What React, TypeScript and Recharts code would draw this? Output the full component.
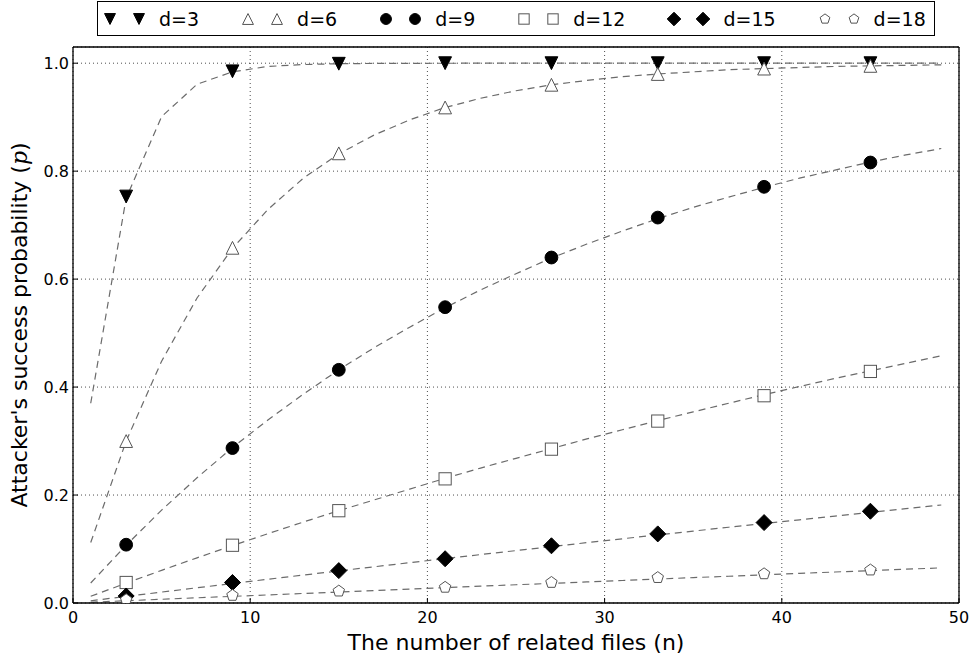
import React from 'react'
import { ComposedChart, Line, Scatter, XAxis, YAxis, CartesianGrid, Label } from 'recharts'

// fitted curves, sampled at odd n
const curveN = [1, 3, 5, 7, 9, 11, 13, 15, 17, 19, 21, 23, 25, 27, 29, 31, 33, 35, 37, 39, 41, 43, 45, 47, 49]
const curveD3 = [0.37, 0.75, 0.901, 0.961, 0.984, 0.994, 0.9975, 0.999, 0.9996, 0.9998, 0.9999, 1, 1, 1, 1, 1, 1, 1, 1, 1, 1, 1, 1, 1, 1]
const curveD6 = [0.112, 0.3, 0.448, 0.565, 0.657, 0.729, 0.787, 0.832, 0.867, 0.895, 0.918, 0.935, 0.949, 0.96, 0.968, 0.975, 0.98, 0.984, 0.988, 0.99, 0.992, 0.994, 0.995, 0.996, 0.997]
const curveD9 = [0.037, 0.107, 0.172, 0.232, 0.288, 0.339, 0.387, 0.432, 0.473, 0.511, 0.547, 0.58, 0.61, 0.639, 0.665, 0.689, 0.712, 0.733, 0.752, 0.77, 0.787, 0.802, 0.817, 0.83, 0.842]
const curveD12 = [0.0124, 0.0368, 0.0605, 0.0837, 0.1063, 0.1284, 0.15, 0.171, 0.191, 0.211, 0.231, 0.25, 0.268, 0.286, 0.304, 0.321, 0.338, 0.354, 0.37, 0.386, 0.401, 0.416, 0.43, 0.444, 0.458]
const curveD15 = [0.0041, 0.0122, 0.0202, 0.0282, 0.0361, 0.044, 0.0517, 0.0595, 0.0671, 0.0747, 0.0823, 0.0897, 0.0971, 0.1045, 0.1118, 0.119, 0.1261, 0.1332, 0.1403, 0.1472, 0.1541, 0.161, 0.168, 0.1747, 0.1815]
const curveD18 = [0.0014, 0.0041, 0.0069, 0.0096, 0.0123, 0.015, 0.0177, 0.0204, 0.0231, 0.0258, 0.0285, 0.0311, 0.0338, 0.0364, 0.0391, 0.0417, 0.0443, 0.047, 0.0496, 0.0522, 0.0548, 0.0574, 0.06, 0.0626, 0.0651]

// measured points
const markerN = [3, 9, 15, 21, 27, 33, 39, 45]
const markD3 = [0.753, 0.985, 0.999, 1, 1, 1, 1, 1]
const markD6 = [0.3, 0.658, 0.833, 0.918, 0.96, 0.98, 0.99, 0.995]
const markD9 = [0.108, 0.287, 0.432, 0.548, 0.64, 0.714, 0.771, 0.816]
const markD12 = [0.038, 0.107, 0.171, 0.23, 0.285, 0.337, 0.384, 0.429]
const markD15 = [0.013, 0.038, 0.06, 0.082, 0.106, 0.128, 0.149, 0.17]
const markD18 = [0.006, 0.014, 0.022, 0.029, 0.038, 0.047, 0.054, 0.061]

const seriesNames = ['d=3', 'd=6', 'd=9', 'd=12', 'd=15', 'd=18']
const xTicks = [0, 10, 20, 30, 40, 50]
const yTicks = [0, 0.2, 0.4, 0.6, 0.8, 1.0]

type Kind = 'triDown' | 'triUp' | 'circle' | 'square' | 'diamond' | 'pentagon'
const kinds: Kind[] = ['triDown', 'triUp', 'circle', 'square', 'diamond', 'pentagon']
const solid = [true, false, true, false, true, false]

const toRows = (xs: number[], ys: number[]) => xs.map((n, i) => ({ n, p: ys[i] }))
const curves = [curveD3, curveD6, curveD9, curveD12, curveD15, curveD18].map(ys => toRows(curveN, ys))
const marks = [markD3, markD6, markD9, markD12, markD15, markD18].map(ys => toRows(markerN, ys))

const FONT = 'DejaVu Sans'

function Marker({ kind, cx, cy, isSolid, k = 1 }: { kind: Kind; cx: number; cy: number; isSolid: boolean; k?: number }) {
  const style = { fill: isSolid ? '#000' : '#fff', stroke: isSolid ? '#000' : '#555', strokeWidth: 1 }
  if (cx == null || cy == null) return <g />
  if (kind === 'circle') return <circle cx={cx} cy={cy} r={6.4 * k} {...style} />
  if (kind === 'square') {
    const h = 6.1 * k
    return <rect x={cx - h} y={cy - h} width={2 * h} height={2 * h} {...style} />
  }
  let pts: number[][] = []
  if (kind === 'triDown') {
    const r = 6.4 * k
    pts = [[cx - r, cy - r], [cx + r, cy - r], [cx, cy + r]]
  } else if (kind === 'triUp') {
    const r = 6.4 * k
    pts = [[cx, cy - r], [cx - r, cy + r], [cx + r, cy + r]]
  } else if (kind === 'diamond') {
    const r = 8 * k
    pts = [[cx, cy - r], [cx + r, cy], [cx, cy + r], [cx - r, cy]]
  } else {
    const r = 6 * k
    pts = [0, 1, 2, 3, 4].map(j => {
      const a = (-90 + 72 * j) * Math.PI / 180
      return [cx + r * Math.cos(a), cy + r * Math.sin(a)]
    })
  }
  return <polygon points={pts.map(p => p.join(',')).join(' ')} {...style} />
}

const XLabel = (props: any) => {
  const vb = props.viewBox || { x: 73, y: 603, width: 886, height: 59 }
  return (
    <text x={vb.x + vb.width / 2} y={vb.y + 47} textAnchor='middle' fontSize={22} fontFamily={FONT} fill='#000'>
      The number of related files (n)
    </text>
  )
}

const YLabel = (props: any) => {
  const vb = props.viewBox || { x: 0, y: 47, width: 73, height: 556 }
  const cx = vb.x + 27
  const cy = vb.y + vb.height / 2
  return (
    <text x={cx} y={cy} transform={`rotate(-90 ${cx} ${cy})`} textAnchor='middle' fontSize={22} fontFamily={FONT} fill='#000'>
      Attacker's success probability (<tspan fontFamily='DejaVu Serif' fontStyle='italic'>p</tspan>)
    </text>
  )
}

const tickStyle = { fontSize: 16, fill: '#000', fontFamily: FONT }
const axisLine = { stroke: '#000', strokeWidth: 1.3 }
const tickLine = { stroke: '#000', strokeWidth: 1 }

export default function App() {
  return (
    <div style={{ position: 'absolute', left: 0, top: 0, width: 971, height: 662, background: '#fff' }}>
      <ComposedChart width={971} height={662} margin={{ top: 46, right: 11, bottom: 0, left: 0 }}>
        <CartesianGrid stroke='#000' strokeWidth={0.7} strokeDasharray='1 3' />
        <XAxis dataKey='n' type='number' domain={[0, 50]} ticks={xTicks} interval={0} allowDataOverflow height={59}
          tickSize={-5} tickMargin={14} tick={tickStyle} axisLine={axisLine} tickLine={tickLine}>
          <Label content={XLabel} />
        </XAxis>
        <XAxis xAxisId='top' orientation='top' type='number' domain={[0, 50]} ticks={xTicks} interval={0} height={1}
          tickSize={-5} tick={() => <g />} axisLine={axisLine} tickLine={tickLine} />
        <YAxis dataKey='p' type='number' domain={[0, 1.03]} ticks={yTicks} interval={0} allowDataOverflow width={73}
          tickSize={-5} tickMargin={9} tick={tickStyle} tickFormatter={(v: number) => v.toFixed(1)}
          axisLine={axisLine} tickLine={tickLine}>
          <Label content={YLabel} />
        </YAxis>
        <YAxis yAxisId='right' orientation='right' type='number' domain={[0, 1.03]} ticks={yTicks} interval={0} width={1}
          tickSize={-5} tick={() => <g />} axisLine={axisLine} tickLine={tickLine} />
        {curves.map((rows, i) => (
          <Line key={'c' + i} data={rows} dataKey='p' type='linear' stroke='#6b6b6b' strokeWidth={1.2}
            strokeDasharray='7 5' dot={false} activeDot={false} isAnimationActive={false} />
        ))}
        {marks.map((rows, i) => (
          <Scatter key={'m' + i} data={rows} dataKey='p' isAnimationActive={false}
            shape={(p: any) => <Marker kind={kinds[i]} cx={p.cx} cy={p.cy} isSolid={solid[i]} />} />
        ))}
      </ComposedChart>
      <div style={{
        position: 'absolute', left: 97, top: 1, width: 838, height: 35, boxSizing: 'border-box',
        border: '1px solid #000', display: 'flex', alignItems: 'center', paddingLeft: 4,
        fontFamily: FONT, fontSize: 19, background: '#fff'
      }}>
        {seriesNames.map((name, i) => (
          <div key={name} style={{ display: 'flex', alignItems: 'center', marginRight: 41 }}>
            <svg width={16} height={16}><Marker kind={kinds[i]} cx={8} cy={8} isSolid={solid[i]} k={0.85} /></svg>
            <svg width={16} height={16} style={{ marginLeft: 13 }}><Marker kind={kinds[i]} cx={8} cy={8} isSolid={solid[i]} k={0.85} /></svg>
            <span style={{ marginLeft: 12, lineHeight: '20px' }}>{name}</span>
          </div>
        ))}
      </div>
    </div>
  )
}
